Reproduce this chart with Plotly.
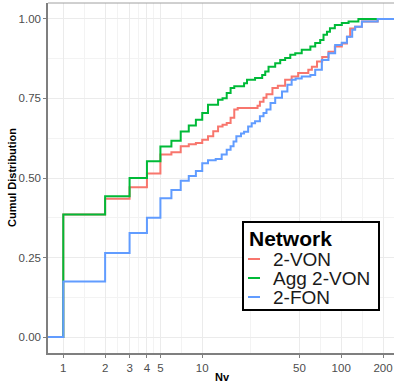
import plotly.graph_objects as go
import numpy as np

# ECDF step points (Nv, cumulative fraction)
von_x = [0.5, 1, 2, 3, 4, 5, 6, 7, 8, 9, 10, 11, 12, 13, 14, 15, 16, 17, 18, 25, 26, 27.6, 29, 32, 35, 39.5, 44, 49, 58, 61.5, 67, 73, 81, 90, 101, 110, 116, 126, 141, 183, 400]
von_y = [0.0, 0.385, 0.435, 0.471, 0.514, 0.574, 0.581, 0.60, 0.606, 0.61, 0.62, 0.631, 0.647, 0.662, 0.667, 0.673, 0.689, 0.715, 0.72, 0.727, 0.74, 0.752, 0.763, 0.783, 0.79, 0.809, 0.819, 0.83, 0.84, 0.85, 0.866, 0.88, 0.897, 0.913, 0.923, 0.944, 0.97, 0.975, 0.992, 1.0, 1.0]

agg_x = [0.5, 1, 2, 3, 4, 5, 6, 7, 8, 9, 10, 11, 12, 13, 14, 15, 16, 17, 20, 21, 24, 27, 28.4, 30, 33.5, 36.4, 39.5, 43, 46.7, 52, 60, 65, 70.6, 74.6, 79, 83, 90, 101, 113, 133, 400]
agg_y = [0.0, 0.385, 0.443, 0.50, 0.553, 0.599, 0.617, 0.646, 0.665, 0.683, 0.704, 0.730, 0.730, 0.746, 0.751, 0.767, 0.783, 0.788, 0.798, 0.809, 0.814, 0.824, 0.835, 0.850, 0.861, 0.871, 0.877, 0.887, 0.892, 0.903, 0.913, 0.924, 0.934, 0.950, 0.960, 0.971, 0.981, 0.987, 0.992, 1.0, 1.0]

fon_x = [0.5, 1, 2, 3, 4, 5, 6, 7, 8, 9, 10, 11, 12.5, 13.8, 15, 16, 16.8, 17.6, 19, 20, 21.4, 22.7, 24, 26, 27.6, 29, 31, 33.5, 37.5, 41, 44, 47, 52, 60, 65, 72.6, 81, 90.5, 101, 110, 120, 126, 141, 183, 400]
fon_y = [0.0, 0.175, 0.264, 0.327, 0.375, 0.436, 0.462, 0.491, 0.506, 0.522, 0.546, 0.556, 0.560, 0.574, 0.589, 0.60, 0.615, 0.631, 0.640, 0.645, 0.662, 0.672, 0.678, 0.694, 0.704, 0.715, 0.736, 0.752, 0.772, 0.793, 0.809, 0.813, 0.819, 0.824, 0.840, 0.871, 0.892, 0.918, 0.925, 0.944, 0.966, 0.975, 0.992, 1.0, 1.0]

series_names = ["2-VON", "Agg 2-VON", "2-FON"]
series_colors = ["#F8766D", "#00BA38", "#619CFF"]
legend_title = "Network"

x_tick_vals = [1, 2, 3, 4, 5, 10, 50, 100, 200]
y_tick_vals = [0, 0.25, 0.5, 0.75, 1.0]
y_tick_text = ["0.00", "0.25", "0.50", "0.75", "1.00"]

W, H = 395, 387
ML, MR, MT, MB = 48, 1, 3, 34
PW, PH = W - ML - MR, H - MT - MB


def px_x(px):
    return (px - ML) / PW


def px_y(py):
    return (H - MB - py) / PH


fig = go.Figure()
for name, col, xs, ys in zip(series_names, series_colors,
                             [von_x, agg_x, fon_x], [von_y, agg_y, fon_y]):
    fig.add_trace(go.Scatter(x=xs, y=ys, mode="lines", name=name, showlegend=False,
                             line=dict(color=col, width=2, shape="hv")))

# minor breaks: geometric midpoints between major breaks (ggplot style)
x_minor = [float(np.sqrt(a * b)) for a, b in zip(x_tick_vals[:-1], x_tick_vals[1:])]
y_minor = [0.125, 0.375, 0.625, 0.875]

font_family = "Liberation Sans, Arial, sans-serif"
fig.update_layout(
    width=W, height=H,
    margin=dict(l=ML, r=MR, t=MT, b=MB),
    plot_bgcolor="white", paper_bgcolor="white",
    font=dict(family=font_family, color="#4d4d4d", size=11),
    showlegend=False,
    xaxis=dict(
        type="log", range=[-0.11, 2.38],
        tickvals=x_tick_vals, ticktext=[str(v) for v in x_tick_vals],
        showgrid=True, gridcolor="#ebebeb", gridwidth=1,
        minor=dict(tickvals=x_minor, showgrid=True, gridcolor="#f3f3f3", gridwidth=0.7, ticklen=0),
        showline=True, linecolor="#7f7f7f", linewidth=1.5,
        ticks="outside", ticklen=3, tickcolor="#7f7f7f",
        tickfont=dict(size=11.5, color="#4d4d4d"),
        zeroline=False,
    ),
    yaxis=dict(
        range=[-0.05, 1.05],
        tickvals=y_tick_vals, ticktext=y_tick_text,
        showgrid=True, gridcolor="#ebebeb", gridwidth=1,
        minor=dict(tickvals=y_minor, showgrid=True, gridcolor="#f3f3f3", gridwidth=0.7, ticklen=0),
        showline=True, linecolor="#7f7f7f", linewidth=1.5,
        ticks="outside", ticklen=3, tickcolor="#7f7f7f",
        tickfont=dict(size=11.5, color="#4d4d4d"),
        zeroline=False,
    ),
)
fig.add_shape(type="line", xref="paper", yref="paper", x0=0, x1=1, y0=1, y1=1,
              line=dict(color="#a0a0a0", width=1))

# axis titles
fig.add_annotation(text="<b>Nv</b>", xref="paper", yref="paper",
                   x=px_x(222), y=px_y(377), showarrow=False,
                   font=dict(size=11, color="black"), xanchor="center", yanchor="middle")
fig.add_annotation(text="<b>Cumul Distribution</b>", xref="paper", yref="paper",
                   x=px_x(12), y=px_y(178), showarrow=False, textangle=-90,
                   font=dict(size=11, color="black"), xanchor="center", yanchor="middle")

# legend box
fig.add_shape(type="rect", xref="paper", yref="paper",
              x0=px_x(243), x1=px_x(379), y0=px_y(310), y1=px_y(222),
              line=dict(color="black", width=2), fillcolor="white", layer="above")
fig.add_annotation(text="<b>%s</b>" % legend_title, xref="paper", yref="paper",
                   x=px_x(247), y=px_y(238), showarrow=False, xanchor="left", yanchor="middle",
                   font=dict(size=21, color="black"))
for i, (name, col) in enumerate(zip(series_names, series_colors)):
    yy = 259 + i * 19
    fig.add_shape(type="line", xref="paper", yref="paper",
                  x0=px_x(248), x1=px_x(260), y0=px_y(yy), y1=px_y(yy),
                  line=dict(color=col, width=2), layer="above")
    fig.add_annotation(text=name, xref="paper", yref="paper",
                       x=px_x(271), y=px_y(yy), showarrow=False, xanchor="left", yanchor="middle",
                       font=dict(size=19, color="#1a1a1a"))

fig.write_html("out.html")
